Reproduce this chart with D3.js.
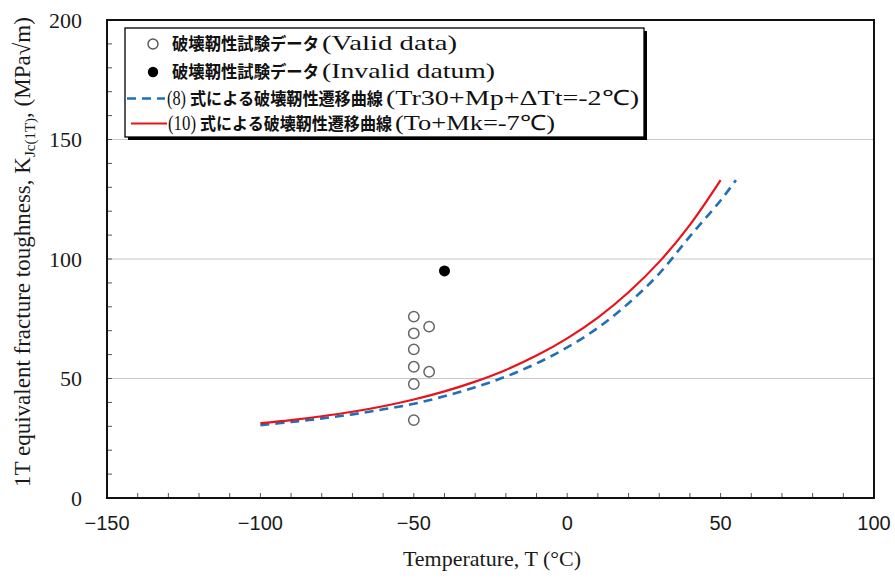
<!DOCTYPE html>
<html><head><meta charset="utf-8">
<script src="https://cdn.jsdelivr.net/npm/d3@7"></script>
<style>body{margin:0;background:#fff}svg{display:block}</style>
</head><body>
<svg id="c" width="895" height="579"></svg>
<script>
// ---- data ----
const xTicks = [-150, -100, -50, 0, 50, 100];
const xTickLabels = ["\u2212150", "\u2212100", "\u221250", "0", "50", "100"];
const yTicks = [0, 50, 100, 150, 200];
const yTickLabels = ["0", "50", "100", "150", "200"];
const validT = [-50, -50, -50, -50, -50, -50, -45, -45];
const validK = [75.9, 68.9, 62.2, 54.9, 47.7, 32.6, 71.7, 52.8];
const invalidT = [-40];
const invalidK = [95];
const redT = [-100, -90, -80, -70, -60, -50, -40, -30, -20, -10, 0, 10, 20, 30, 40, 50];
const redK = [31.3, 32.6, 34.2, 36.1, 38.4, 41.2, 44.6, 48.7, 53.6, 59.6, 66.8, 75.5, 86.1, 98.8, 114.3, 133.0];
const blueT = [-100, -90, -80, -70, -60, -50, -40, -30, -20, -10, 0, 10, 20, 30, 40, 50, 55];
const blueK = [30.5, 31.8, 33.3, 35.0, 37.1, 39.4, 42.6, 46.3, 50.8, 56.3, 63.0, 71.2, 81.5, 93.9, 109.5, 124.5, 133.0];

const svg = d3.select("#c");
const L = 107, R = 874, T = 20, B = 498;
const x = d3.scaleLinear([-150, 100], [L, R]);
const y = d3.scaleLinear([0, 200], [B, T]);
const serif = "'Liberation Serif','Times New Roman',serif";
const sans = "'Liberation Sans',Arial,sans-serif";
const jp = "'Noto Sans CJK JP',sans-serif";

// gridlines
svg.append("g").selectAll("line").data([50, 100, 150]).join("line")
  .attr("x1", L).attr("x2", R).attr("y1", d => y(d)).attr("y2", d => y(d))
  .attr("stroke", "#c8c8c8").attr("stroke-width", 1);

// minor ticks
const yMinor = d3.range(10, 200, 10);
svg.append("g").selectAll("line").data(yMinor).join("line")
  .attr("x1", L).attr("x2", L + 5).attr("y1", d => y(d)).attr("y2", d => y(d))
  .attr("stroke", "#555").attr("stroke-width", 1);
const xMinor = d3.range(-140, 100, 10);
svg.append("g").selectAll("line").data(xMinor).join("line")
  .attr("x1", d => x(d)).attr("x2", d => x(d)).attr("y1", B).attr("y2", B - 5)
  .attr("stroke", "#555").attr("stroke-width", 1);

// frame
svg.append("rect").attr("x", L).attr("y", T).attr("width", R - L).attr("height", B - T)
  .attr("fill", "none").attr("stroke", "#111").attr("stroke-width", 2);

// tick labels
svg.append("g").selectAll("text").data(yTicks).join("text")
  .attr("x", 82).attr("y", d => y(d) + 7.5).attr("text-anchor", "end")
  .attr("font-family", serif).attr("font-size", 22).attr("fill", "#1a1a1a")
  .text((d, i) => yTickLabels[i]);
svg.append("g").selectAll("text").data(xTicks).join("text")
  .attr("x", d => x(d)).attr("y", 530).attr("text-anchor", "middle")
  .attr("font-family", sans).attr("font-size", 20).attr("fill", "#1a1a1a")
  .text((d, i) => xTickLabels[i]);

// axis titles
svg.append("text").attr("x", 492).attr("y", 566).attr("text-anchor", "middle")
  .attr("font-family", serif).attr("font-size", 22).attr("fill", "#1a1a1a")
  .text("Temperature, T (\u00B0C)");
const yt = svg.append("text").attr("transform", "translate(30,252) rotate(-90)")
  .attr("text-anchor", "middle").attr("font-family", serif).attr("font-size", 23).attr("fill", "#1a1a1a");
yt.append("tspan").text("1T equivalent fracture toughness, K");
yt.append("tspan").attr("font-size", 15).attr("dy", 5).text("Jc(1T)");
yt.append("tspan").attr("dy", -5).text(", (MPa\u221Am)");

// curves
const line = d3.line().x(d => x(d[0])).y(d => y(d[1])).curve(d3.curveCatmullRom);
svg.append("path").datum(blueT.map((t, i) => [t, blueK[i]])).attr("d", line)
  .attr("fill", "none").attr("stroke", "#1f70b8").attr("stroke-width", 2.6)
  .attr("stroke-dasharray", "9,6");
svg.append("path").datum(redT.map((t, i) => [t, redK[i]])).attr("d", line)
  .attr("fill", "none").attr("stroke", "#e8141c").attr("stroke-width", 2.2);

// points
svg.append("g").selectAll("circle").data(validT.map((t, i) => [t, validK[i]])).join("circle")
  .attr("cx", d => x(d[0])).attr("cy", d => y(d[1])).attr("r", 5.2)
  .attr("fill", "#fff").attr("stroke", "#666").attr("stroke-width", 1.5);
svg.append("g").selectAll("circle").data(invalidT.map((t, i) => [t, invalidK[i]])).join("circle")
  .attr("cx", d => x(d[0])).attr("cy", d => y(d[1])).attr("r", 5.5).attr("fill", "#000");

// legend
const lg = svg.append("g");
lg.append("rect").attr("x", 128).attr("y", 31).attr("width", 519).attr("height", 109).attr("fill", "#000");
lg.append("rect").attr("x", 125).attr("y", 28).attr("width", 519).attr("height", 109)
  .attr("fill", "#fff").attr("stroke", "#000").attr("stroke-width", 1.3);

function seg(x0, yb, txt, font, size, len, weight) {
  lg.append("text").attr("x", x0).attr("y", yb).attr("font-family", font).attr("font-size", size)
    .attr("font-weight", weight || "normal").attr("fill", "#111")
    .attr("textLength", len).attr("lengthAdjust", "spacingAndGlyphs").text(txt);
}
// row 1
lg.append("circle").attr("cx", 153).attr("cy", 44).attr("r", 5).attr("fill", "#fff")
  .attr("stroke", "#555").attr("stroke-width", 1.4);
seg(172, 50, "破壊靭性試験データ", jp, 17, 147, "bold");
seg(322, 50, "(Valid data)", serif, 21, 135);
// row 2
lg.append("circle").attr("cx", 153).attr("cy", 72).attr("r", 5.2).attr("fill", "#000");
seg(172, 78, "破壊靭性試験データ", jp, 17, 147, "bold");
seg(322, 78, "(Invalid datum)", serif, 21, 173);
// row 3
lg.append("line").attr("x1", 127).attr("x2", 165).attr("y1", 98.5).attr("y2", 98.5)
  .attr("stroke", "#1f70b8").attr("stroke-width", 2.6).attr("stroke-dasharray", "9,6");
seg(167, 105, "(8)", serif, 21, 19);
seg(190, 105, "式による破壊靭性遷移曲線", jp, 17, 193, "bold");
seg(386, 105, "(Tr30+Mp+\u0394Tt=-2\u2103)", serif, 21, 253);
// row 4
lg.append("line").attr("x1", 131).attr("x2", 167).attr("y1", 123.5).attr("y2", 123.5)
  .attr("stroke", "#e8141c").attr("stroke-width", 2.2);
seg(168, 130, "(10)", serif, 21, 28);
seg(200, 130, "式による破壊靭性遷移曲線", jp, 17, 192, "bold");
seg(395, 130, "(To+Mk=-7\u2103)", serif, 21, 160);
</script>
</body></html>
